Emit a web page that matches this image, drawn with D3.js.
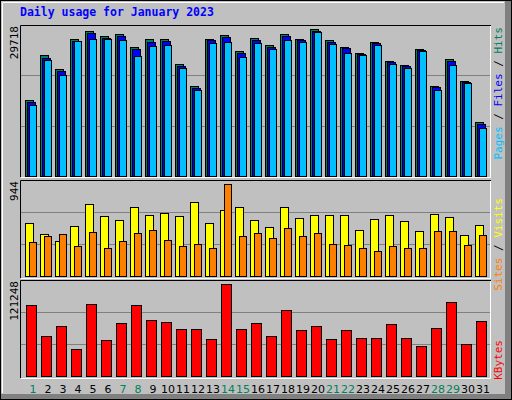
<!DOCTYPE html>
<html><head><meta charset="utf-8">
<script src="https://cdn.jsdelivr.net/npm/d3@7"></script>
<style>body{margin:0;background:#fff}</style>
</head><body><div id="chart"></div>
<script>
const days = d3.range(1, 32);
const weekend = [1, 7, 8, 14, 15, 21, 22, 28, 29];
const hits = [15370,24460,21640,27700,29320,28310,28710,26080,27700,27700,22650,18200,27700,28510,25270,27900,26490,28710,27700,29718,27500,26080,24870,27090,23250,22440,25680,18200,23660,19210,10920];
const files = [14960,23860,21230,27300,28910,27900,28310,25680,27090,27300,22240,17790,27500,28100,24870,27500,26080,28310,27500,29320,27090,25880,24670,26890,23050,22240,25480,18000,23250,19010,10510];
const pages = [14360,23450,20420,27300,27700,27700,27500,24260,26290,26490,21840,17390,26890,27090,24060,26890,25680,27500,27090,29120,26690,24870,24460,26490,22650,21840,25270,17390,22440,18800,9700];
const visits = [544,431,359,513,739,616,575,708,626,646,616,759,544,677,708,575,503,708,595,626,626,626,472,585,626,564,462,636,605,421,523];
const sites = [349,410,431,308,451,287,359,441,472,369,308,328,287,944,410,441,390,492,410,441,328,318,287,256,308,287,287,462,462,318,421];
const kbytes = [93580,52720,65900,35590,94900,47450,69850,93580,73810,71170,61950,61950,48770,121248,61950,69850,52720,86990,60630,65900,48770,60630,50080,50080,68540,50080,39540,63260,97530,42180,72490];
const maxLabels = ["29718", "944", "121248"];

const W = 512, H = 400;
const svg = d3.select("#chart").append("svg").attr("width", W).attr("height", H);
const font = "'DejaVu Sans Mono', monospace";

// frame
svg.append("rect").attr("width", W).attr("height", H).attr("fill", "#808080");
svg.append("rect").attr("x", 0).attr("y", 0).attr("width", 505).attr("height", 394).attr("fill", "#c0c0c0");
svg.append("rect").attr("x", 0.5).attr("y", 0.5).attr("width", W - 1).attr("height", H - 1).attr("fill", "none").attr("stroke", "#000");
svg.append("path").attr("d", "M2.5,393V2.5H504").attr("fill", "none").attr("stroke", "#fff");

svg.append("text").attr("x", 20).attr("y", 16).attr("fill", "#0000ff")
  .attr("font-family", font).attr("font-weight", "bold").attr("font-size", 11.5)
  .text("Daily usage for January 2023");

const x = d3.scaleLinear().domain([1, 32]).range([25, 490]);

const panels = [
  { top: 25, bottom: 177, base: 176, maxY: 29, max: 29718 },
  { top: 180, bottom: 278, base: 276, maxY: 184, max: 944 },
  { top: 280, bottom: 378, base: 376, maxY: 284, max: 121248 }
];

panels.forEach((p, i) => {
  p.y = d3.scaleLinear().domain([0, p.max]).range([p.base, p.maxY]);
  const g = svg.append("g");
  // bevel
  g.append("path").attr("d", `M20.5,${p.bottom}V${p.top + 0.5}H491`).attr("fill", "none").attr("stroke", "#000");
  g.append("path").attr("d", `M21,${p.bottom + 0.5}H490.5V${p.top + 1}`).attr("fill", "none").attr("stroke", "#fff");
  const h = p.base - p.top;
  [1 / 3, 2 / 3].forEach(f => {
    const gy = Math.round(p.top + h * f) + 0.5;
    g.append("line").attr("x1", 21).attr("x2", 490).attr("y1", gy).attr("y2", gy).attr("stroke", "#808080");
  });
  svg.append("text").attr("transform", `translate(18,${p.top + 1}) rotate(-90)`)
    .attr("text-anchor", "end").attr("font-family", font).attr("font-size", 11).attr("fill", "#000")
    .text(maxLabels[i]);
});

function bars(data, p, off, w, color) {
  svg.append("g").selectAll("rect").data(data).enter().append("rect")
    .attr("x", (d, i) => x(days[i]) + off + 0.5)
    .attr("y", d => Math.round(p.y(d)) + 0.5)
    .attr("width", w)
    .attr("height", d => p.base - Math.round(p.y(d)))
    .attr("fill", color).attr("stroke", "#000");
}
bars(hits, panels[0], 0, 8, "#00805c");
bars(files, panels[0], 2, 8, "#0000ff");
bars(pages, panels[0], 4, 7, "#00c0ff");
bars(visits, panels[1], 0, 8, "#ffff00");
bars(sites, panels[1], 4, 7, "#ff8000");
bars(kbytes, panels[2], 1, 10, "#ff0000");

svg.append("g").selectAll("text").data(days).enter().append("text")
  .attr("x", d => x(d) + 8).attr("y", 393).attr("text-anchor", "middle")
  .attr("font-family", "'DejaVu Sans', sans-serif").attr("font-size", 11)
  .attr("fill", d => weekend.includes(d) ? "#00805c" : "#000")
  .text(d => d);

// right legends
function legend(parts, yEnd) {
  const t = svg.append("text").attr("transform", `translate(502,${yEnd}) rotate(-90)`)
    .attr("text-anchor", "end").attr("font-family", font).attr("font-size", 11);
  parts.forEach(([s, c]) => t.append("tspan").attr("fill", c).text(s));
}
legend([["Pages", "#00c0ff"], [" / ", "#000"], ["Files", "#0000ff"], [" / ", "#000"], ["Hits", "#00805c"]], 27);
legend([["Sites", "#ff8000"], [" / ", "#000"], ["Visits", "#ffff00"]], 198);
legend([["KBytes", "#ff0000"]], 340);
</script></body></html>
